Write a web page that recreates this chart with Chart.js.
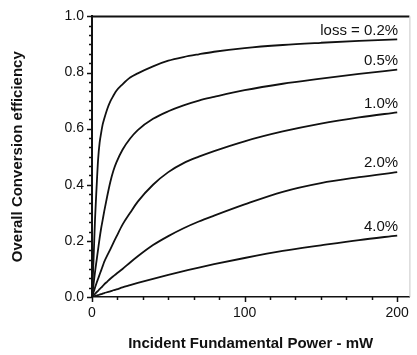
<!DOCTYPE html>
<html>
<head>
<meta charset="utf-8">
<script src="https://cdn.jsdelivr.net/npm/chart.js@4.4.1/dist/chart.umd.min.js"></script>
<style>
  html, body { margin: 0; padding: 0; background: #fff; }
  #wrap { width: 417px; height: 355px; }
</style>
</head>
<body>
<div id="wrap"><canvas id="chart" width="417" height="355"></canvas></div>
<script>
// incident fundamental power (mW)
const powerMw = [0, 1, 2, 3, 4, 5, 6, 7, 8, 10, 12, 14, 16, 20, 25, 30, 40, 50, 60, 70, 80, 100, 125, 150, 175, 200];

// overall conversion efficiency, one array per loss value
const loss02 = [0, 0.13, 0.28, 0.39, 0.49, 0.55, 0.585, 0.615, 0.635, 0.67, 0.697, 0.717, 0.735, 0.758, 0.782, 0.797, 0.822, 0.842, 0.855, 0.865, 0.874, 0.887, 0.898, 0.906, 0.913, 0.918];
const loss05 = [0, 0.045, 0.09, 0.13, 0.17, 0.21, 0.245, 0.275, 0.305, 0.36, 0.41, 0.45, 0.48, 0.525, 0.565, 0.595, 0.635, 0.662, 0.683, 0.70, 0.713, 0.737, 0.76, 0.778, 0.795, 0.81];
const loss10 = [0, 0.017, 0.034, 0.05, 0.065, 0.08, 0.095, 0.11, 0.125, 0.148, 0.17, 0.193, 0.215, 0.258, 0.30, 0.34, 0.40, 0.445, 0.477, 0.50, 0.52, 0.555, 0.59, 0.618, 0.64, 0.658];
const loss20 = [0, 0.006, 0.011, 0.017, 0.022, 0.028, 0.033, 0.039, 0.045, 0.055, 0.065, 0.074, 0.083, 0.10, 0.123, 0.145, 0.185, 0.217, 0.245, 0.269, 0.29, 0.33, 0.375, 0.406, 0.427, 0.445];
const loss40 = [0, 0.0017, 0.0034, 0.005, 0.007, 0.0085, 0.010, 0.012, 0.014, 0.017, 0.020, 0.024, 0.027, 0.034, 0.042, 0.05, 0.065, 0.079, 0.092, 0.105, 0.117, 0.139, 0.164, 0.184, 0.203, 0.219];

const curveLabels = ['loss = 0.2%', '0.5%', '1.0%', '2.0%', '4.0%'];
const xTicks = [0, 100, 200];
const yTicks = [0, 0.2, 0.4, 0.6, 0.8, 1.0];

const FONT = '"Liberation Sans", Arial, Helvetica, sans-serif';
const INK = '#111';

const series = [loss02, loss05, loss10, loss20, loss40];

const datasets = series.map((vals, i) => ({
  label: curveLabels[i],
  data: powerMw.map((p, j) => ({ x: p, y: vals[j] })),
  borderColor: INK,
  borderWidth: 1.8,
  pointRadius: 0,
  fill: false,
  cubicInterpolationMode: 'monotone'
}));

// ticks, top frame line and curve labels
const decor = {
  id: 'decor',
  afterDraw(chart) {
    const { ctx, chartArea: a, scales: { x, y } } = chart;
    ctx.save();
    ctx.strokeStyle = INK;
    ctx.lineWidth = 2;
    ctx.beginPath();
    ctx.moveTo(a.left - 1, a.top);
    ctx.lineTo(a.right, a.top);
    ctx.stroke();

    ctx.strokeStyle = '#c8c8c8';
    ctx.lineWidth = 1;
    ctx.beginPath();
    ctx.moveTo(a.right + 0.5, a.top);
    ctx.lineTo(a.right + 0.5, a.bottom);
    ctx.stroke();

    ctx.strokeStyle = INK;
    ctx.lineWidth = 1.5;
    const yStep = 0.2 / 6;
    for (let i = 0; i <= 30; i++) {
      const py = Math.round(y.getPixelForValue(i * yStep)) + 0.5;
      const len = i % 6 === 0 ? 5 : 3;
      ctx.beginPath();
      ctx.moveTo(a.left - len, py);
      ctx.lineTo(a.left, py);
      ctx.stroke();
    }
    const xStep = 100 / 6;
    for (let i = 0; i <= 12; i++) {
      const px = Math.round(x.getPixelForValue(i * xStep)) + 0.5;
      const len = i % 6 === 0 ? 5 : 3;
      ctx.beginPath();
      ctx.moveTo(px, a.bottom);
      ctx.lineTo(px, a.bottom + len);
      ctx.stroke();
    }

    ctx.fillStyle = INK;
    ctx.font = '15px ' + FONT;
    ctx.textAlign = 'right';
    ctx.textBaseline = 'middle';
    series.forEach((vals, i) => {
      const last = vals.length - 1;
      const px = x.getPixelForValue(powerMw[last]);
      const py = y.getPixelForValue(vals[last]) - 9;
      ctx.fillText(curveLabels[i], px + 1, py);
    });
    ctx.restore();
  }
};

new Chart(document.getElementById('chart'), {
  type: 'line',
  data: { datasets },
  plugins: [decor],
  options: {
    responsive: false,
    animation: false,
    layout: { padding: { top: 14, right: 3, left: 0, bottom: 0 } },
    plugins: { legend: { display: false }, tooltip: { enabled: false } },
    scales: {
      x: {
        type: 'linear',
        min: 0,
        max: 208,
        afterBuildTicks: s => { s.ticks = xTicks.map(v => ({ value: v })); },
        afterFit: s => { s.height = 58; },
        grid: { display: false, drawTicks: false },
        border: { display: true, color: INK, width: 1.5 },
        ticks: { font: { family: FONT, size: 14 }, color: INK, padding: 8, maxRotation: 0 },
        title: {
          display: true,
          text: 'Incident Fundamental Power - mW',
          font: { family: FONT, size: 15, weight: 'bold' },
          color: INK,
          padding: { top: 0, bottom: 2 }
        }
      },
      y: {
        type: 'linear',
        min: 0,
        max: 1,
        afterBuildTicks: s => { s.ticks = yTicks.map(v => ({ value: v })); },
        afterFit: s => { s.width = 92; },
        grid: { display: false, drawTicks: false },
        border: { display: true, color: INK, width: 2 },
        ticks: {
          font: { family: FONT, size: 14 },
          color: INK,
          padding: 8,
          callback: v => v.toFixed(1)
        },
        title: {
          display: true,
          text: 'Overall Conversion efficiency',
          font: { family: FONT, size: 15, weight: 'bold' },
          color: INK,
          padding: { top: 9, bottom: 0 }
        }
      }
    }
  }
});
</script>
</body>
</html>
